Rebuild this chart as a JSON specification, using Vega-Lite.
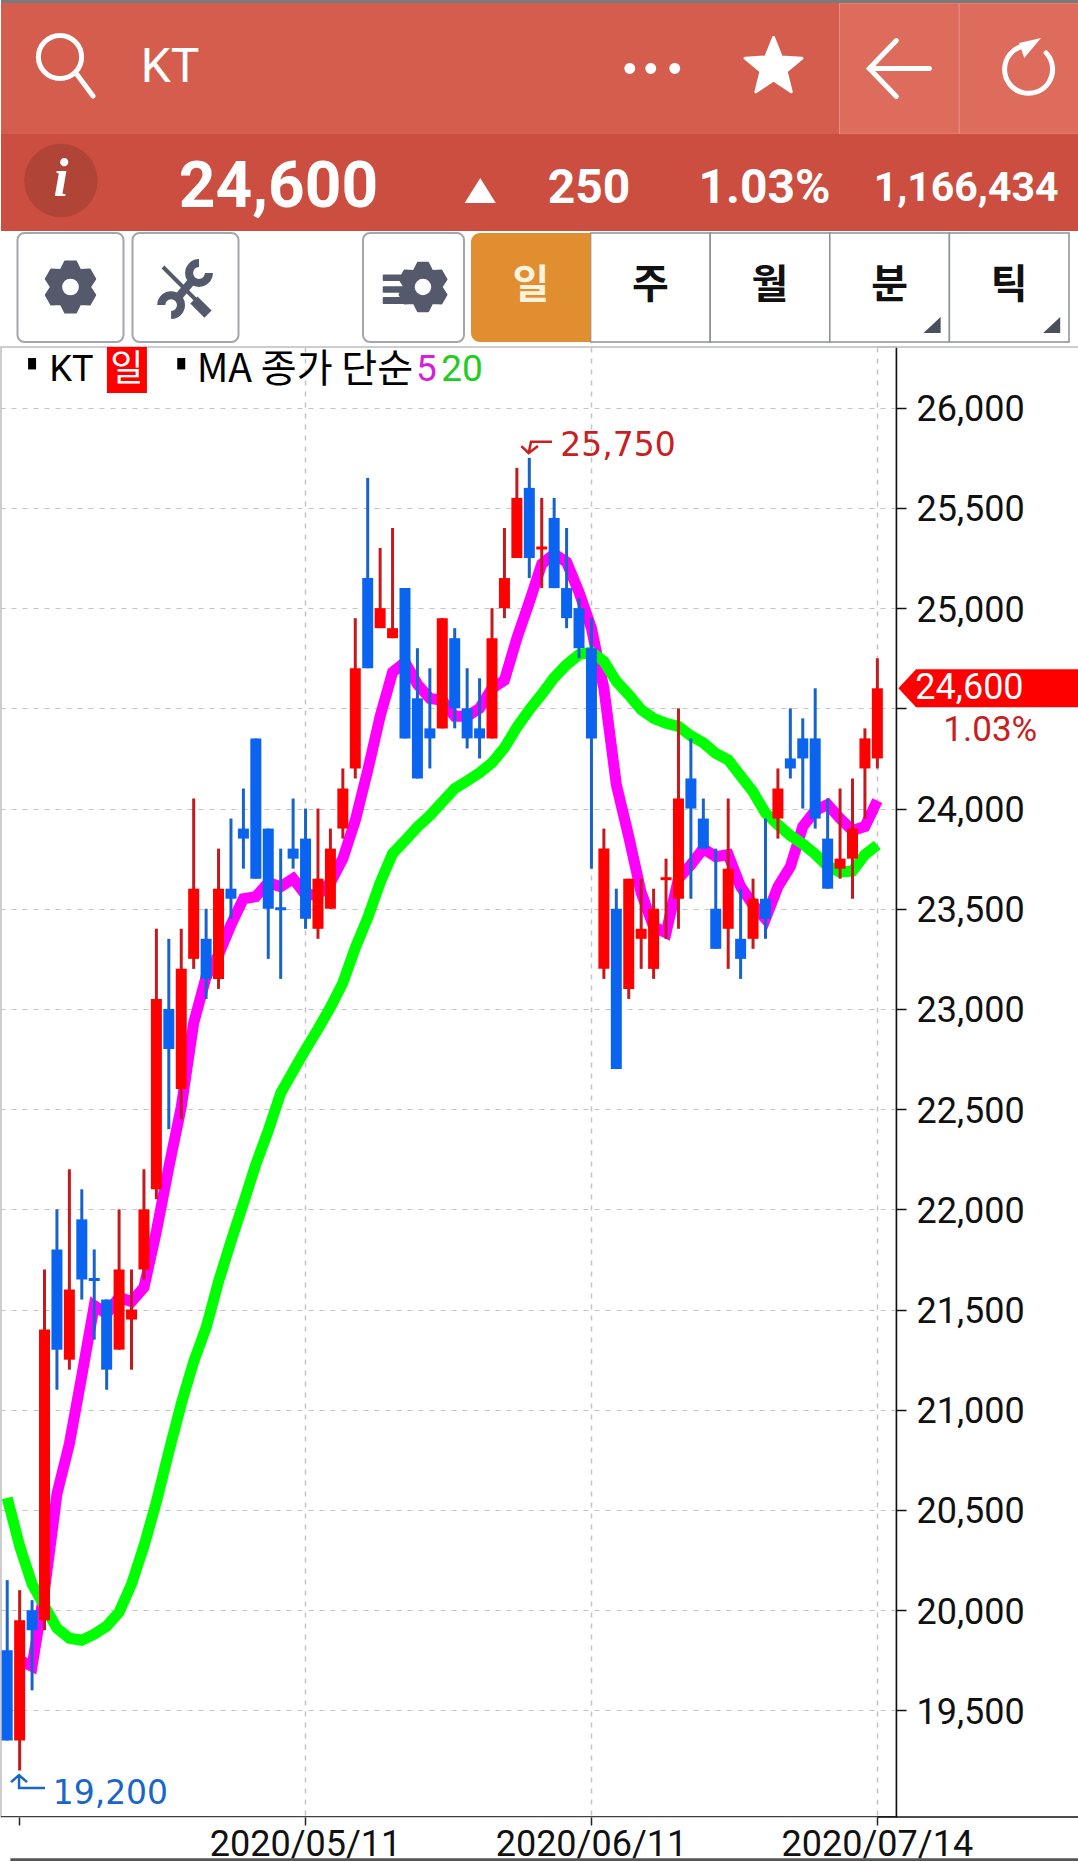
{"$schema":"https://vega.github.io/schema/vega-lite/v6.json","padding":0,"background":"#ffffff","spacing":0,"bounds":"flush","config":{"concat":{"spacing":0},"text":{"font":"Roboto"}},"vconcat":[
{"width":1078,"height":3,"view":{"fill":"#7a7a7a","stroke":null},"data":{"values":[{"k":1}]},"mark":{"type":"point","opacity":0,"size":1},"encoding":{}},
{"width":1078,"height":131,"view":{"fill":"#d55d4e","stroke":null},"encoding":{"x":{"field":"slot","type":"nominal","axis":null,"scale":{"type":"band","domain":["search","name","s1","s2","s3","more","favorite","back","refresh"],"range":[0,1078],"paddingInner":0,"paddingOuter":0}}},"layer":[
{"data":{"values":[{"slot":"back"},{"slot":"refresh"}]},"mark":{"type":"rect","fill":"#de6c5d","stroke":"#e98f83","strokeWidth":1,"clip":true}},
{"data":{"values":[{"slot":"search"}]},"mark":{"type":"point","shape":"M.69 -.383A.72 .72 0 1 1 -.75 -.383A.72 .72 0 1 1 .69 -.383M.5 .15L1.07 .92","size":3600,"filled":false,"stroke":"#ffffff","strokeWidth":5,"opacity":1,"strokeCap":"round"}},
{"data":{"values":[{"slot":"name","label":"KT"}]},"mark":{"type":"text","align":"left","dx":-40,"dy":-1,"fontSize":48,"fill":"#ffffff","font":"Roboto"},"encoding":{"text":{"field":"label"}}},
{"data":{"values":[{"slot":"more"}]},"mark":{"type":"point","shape":"M-.82 0A.18 .18 0 1 1 -1.18 0A.18 .18 0 1 1 -.82 0ZM-.12 0A.18 .18 0 1 1 -.48 0A.18 .18 0 1 1 -.12 0ZM.68 0A.18 .18 0 1 1 .32 0A.18 .18 0 1 1 .68 0Z","size":3600,"filled":true,"fill":"#ffffff","opacity":1}},
{"data":{"values":[{"slot":"favorite"}]},"mark":{"type":"point","shape":"M0 -1L.26 -.35L.95 -.31L.42 .13L.59 .81L0 .42L-.59 .81L-.42 .13L-.95 -.31L-.26 -.35Z","size":3600,"filled":true,"fill":"#ffffff","stroke":"#ffffff","strokeWidth":3,"strokeJoin":"round","opacity":1,"xOffset":-6,"yOffset":-1}},
{"data":{"values":[{"slot":"back"}]},"mark":{"type":"point","shape":"M1 0L-1 0M-.1 -.93L-1 0L-.1 .93","size":3600,"filled":false,"stroke":"#ffffff","strokeWidth":5,"opacity":1,"strokeCap":"round"}},
{"data":{"values":[{"slot":"refresh"}]},"mark":{"type":"point","shape":"M.9 -.52A.8 .8 0 1 1 .13 -.75","size":3600,"filled":false,"stroke":"#ffffff","strokeWidth":5,"opacity":1,"strokeCap":"round"}},
{"data":{"values":[{"slot":"refresh"}]},"mark":{"type":"point","shape":"M.73 -1.02L0 -.85L.17 -.35Z","size":3600,"filled":true,"fill":"#ffffff","opacity":1}}
]},
{"width":1078,"height":97,"view":{"fill":"#cb4e40","stroke":null},"encoding":{"x":{"field":"slot","type":"nominal","axis":null,"scale":{"type":"band","domain":["info","p1","price","arrow","change","c2","rate","r2","volume"],"range":[0,1078],"paddingInner":0,"paddingOuter":0}},"text":{"field":"label"}},"layer":[
{"data":{"values":[{"slot":"info"}]},"mark":{"type":"point","shape":"circle","size":5400,"filled":true,"fill":"#b04437","opacity":1,"yOffset":-2}},
{"data":{"values":[{"slot":"info","label":"i"}]},"mark":{"type":"text","font":"Liberation Serif","fontStyle":"italic","fontWeight":"bold","fontSize":54,"fill":"#ffffff","dy":-3}},
{"data":{"values":[{"slot":"price","label":"24,600"}]},"mark":{"type":"text","font":"Roboto","fontWeight":"bold","fontSize":64,"fill":"#ffffff","dx":-22,"dy":5}},
{"data":{"values":[{"slot":"arrow"}]},"mark":{"type":"point","shape":"M0 -.42L.52 .42L-.52 .42Z","size":3600,"filled":true,"fill":"#ffffff","opacity":1,"xOffset":60,"yOffset":8}},
{"data":{"values":[{"slot":"change","label":"250"}]},"mark":{"type":"text","font":"Roboto","fontWeight":"bold","fontSize":48,"fill":"#ffffff","dx":49,"dy":6}},
{"data":{"values":[{"slot":"rate","label":"1.03%"}]},"mark":{"type":"text","font":"Roboto","fontWeight":"bold","fontSize":48,"fill":"#ffffff","dx":-15,"dy":6}},
{"data":{"values":[{"slot":"volume","label":"1,166,434"}]},"mark":{"type":"text","font":"Roboto","fontWeight":"bold","fontSize":41,"fill":"#ffffff","dx":-53,"dy":6}}
]},
{"width":1078,"height":116,"view":{"fill":"#ffffff","stroke":null},"resolve":{"scale":{"x":"independent"}},"layer":[
{"data":{"values":[{"button":"settings"},{"button":"tools"}]},"mark":{"type":"rect","width":106,"fill":"#ffffff","stroke":"#a3a6ad","strokeWidth":2,"cornerRadius":7},"encoding":{"x":{"field":"button","type":"nominal","axis":null,"scale":{"type":"band","domain":["settings","tools","gap","indicators"],"range":[12,472],"paddingInner":0,"paddingOuter":0}},"y":{"datum":2,"type":"quantitative","axis":null,"scale":{"domain":[116,0]}},"y2":{"datum":111}}},
{"data":{"values":[{"button":"indicators"}]},"mark":{"type":"rect","width":101,"xOffset":-2,"fill":"#ffffff","stroke":"#a3a6ad","strokeWidth":2,"cornerRadius":7},"encoding":{"x":{"field":"button","type":"nominal","axis":null,"scale":{"type":"band","domain":["settings","tools","gap","indicators"],"range":[12,472],"paddingInner":0,"paddingOuter":0}},"y":{"datum":2,"type":"quantitative","axis":null,"scale":{"domain":[116,0]}},"y2":{"datum":111}}},
{"data":{"values":[{"button":"settings"}]},"mark":{"type":"point","shape":"M-.208 -.978L.208 -.978L.375 -.65L.743 -.669L.951 -.309L.75 0L.951 .309L.743 .669L.375 .65L.208 .978L-.208 .978L-.375 .65L-.743 .669L-.951 .309L-.75 0L-.951 -.309L-.743 -.669L-.375 -.65ZM.36 0A.36 .36 0 1 0 -.36 0A.36 .36 0 1 0 .36 0Z","size":2704,"filled":true,"fill":"#545a6b","stroke":"#545a6b","strokeWidth":2,"strokeJoin":"round","opacity":1,"yOffset":-2},"encoding":{"x":{"field":"button","type":"nominal","axis":null,"scale":{"type":"band","domain":["settings","tools","gap","indicators"],"range":[12,472],"paddingInner":0,"paddingOuter":0}}}},
{"data":{"values":[{"button":"tools"}]},"mark":{"type":"point","shape":"M.2 -.22L-.22 .28M.78 -.5A.33 .33 0 1 1 .45 -.83M-.81 .57A.33 .33 0 1 1 -.48 .9","size":3600,"filled":false,"stroke":"#545a6b","strokeWidth":8,"opacity":1,"yOffset":-1},"encoding":{"x":{"field":"button","type":"nominal","axis":null,"scale":{"type":"band","domain":["settings","tools","gap","indicators"],"range":[12,472],"paddingInner":0,"paddingOuter":0}}}},
{"data":{"values":[{"button":"tools"}]},"mark":{"type":"point","shape":"M-.75 -.7L.38 .43","size":3600,"filled":false,"stroke":"#545a6b","strokeWidth":4,"opacity":1,"yOffset":-1},"encoding":{"x":{"field":"button","type":"nominal","axis":null,"scale":{"type":"band","domain":["settings","tools","gap","indicators"],"range":[12,472],"paddingInner":0,"paddingOuter":0}}}},
{"data":{"values":[{"button":"tools"}]},"mark":{"type":"point","shape":"M.4 .28L.87 .75L.63 .99L.16 .52Z","size":3600,"filled":true,"fill":"#545a6b","opacity":1,"yOffset":-1},"encoding":{"x":{"field":"button","type":"nominal","axis":null,"scale":{"type":"band","domain":["settings","tools","gap","indicators"],"range":[12,472],"paddingInner":0,"paddingOuter":0}}}},
{"data":{"values":[{"button":"indicators"}]},"mark":{"type":"point","shape":"M-.208 -.978L.208 -.978L.375 -.65L.743 -.669L.951 -.309L.75 0L.951 .309L.743 .669L.375 .65L.208 .978L-.208 .978L-.375 .65L-.743 .669L-.951 .309L-.75 0L-.951 -.309L-.743 -.669L-.375 -.65ZM.36 0A.36 .36 0 1 0 -.36 0A.36 .36 0 1 0 .36 0ZM-1.58 -.47L-.77 -.47L-.77 -.27L-1.58 -.27ZM-1.58 0L-.77 0L-.77 .2L-1.58 .2ZM-1.58 .43L-.77 .43L-.77 .65L-1.58 .65Z","size":2500,"filled":true,"fill":"#545a6b","stroke":"#545a6b","strokeWidth":1.5,"strokeJoin":"round","opacity":1,"xOffset":7.5,"yOffset":-2},"encoding":{"x":{"field":"button","type":"nominal","axis":null,"scale":{"type":"band","domain":["settings","tools","gap","indicators"],"range":[12,472],"paddingInner":0,"paddingOuter":0}}}},
{"data":{"values":[{"tab":"일","label":"일","state":"on"},{"tab":"주","label":"주","state":"off"},{"tab":"월","label":"월","state":"off"},{"tab":"분","label":"분","state":"off"},{"tab":"틱","label":"틱","state":"off"}]},"layer":[
{"transform":[{"filter":"datum.state==='off'"}],"mark":{"type":"rect","fill":"#ffffff","stroke":"#8c9097","strokeWidth":1.5},"encoding":{"y":{"datum":2,"type":"quantitative","axis":null,"scale":{"domain":[116,0]}},"y2":{"datum":111}}},
{"transform":[{"filter":"datum.state==='on'"}],"mark":{"type":"rect","fill":"#e08e30","cornerRadiusTopLeft":9,"cornerRadiusBottomLeft":9},"encoding":{"y":{"datum":2,"type":"quantitative","axis":null,"scale":{"domain":[116,0]}},"y2":{"datum":111}}},
{"mark":{"type":"text","font":"Noto Sans CJK KR","fontWeight":"bold","fontSize":40,"dy":-3},"encoding":{"text":{"field":"label"},"fill":{"condition":{"test":"datum.state==='on'","value":"#fdf3dc"},"value":"#111111"}}},
{"transform":[{"filter":"datum.tab==='분'||datum.tab==='틱'"}],"mark":{"type":"point","shape":"M1.13 1.47L1.7 .93L1.7 1.47Z","size":3600,"filled":true,"fill":"#4a4f5c","opacity":1}}
],"encoding":{"x":{"field":"tab","type":"nominal","axis":null,"sort":null,"scale":{"type":"band","domain":["일","주","월","분","틱"],"range":[470,1068],"paddingInner":0,"paddingOuter":0}}}}
]},
{"width":895,"height":1470,"view":{"stroke":"#bdbdbd","strokeWidth":1.5,"fill":"#ffffff"},
"data":{"values":[
{"date":"2020/04/01","dir":"down","open":19800,"high":20150,"low":19350,"close":19350,"ma20":20560},
{"date":"2020/04/02","dir":"up","open":19350,"high":20100,"low":19200,"close":19950,"ma5":19750,"ma20":20320},
{"date":"2020/04/03","dir":"down","open":20000,"high":20050,"low":19600,"close":19900,"ma5":19720,"ma20":20130},
{"date":"2020/04/06","dir":"up","open":19950,"high":21700,"low":19900,"close":21400,"ma5":20100,"ma20":20020},
{"date":"2020/04/07","dir":"down","open":21800,"high":22000,"low":21100,"close":21300,"ma5":20580,"ma20":19910},
{"date":"2020/04/08","dir":"up","open":21250,"high":22200,"low":21200,"close":21600,"ma5":20830,"ma20":19860},
{"date":"2020/04/09","dir":"down","open":21950,"high":22100,"low":21550,"close":21650,"ma5":21170,"ma20":19850},
{"date":"2020/04/10","dir":"down","open":21650,"high":21800,"low":21350,"close":21650,"ma5":21520,"ma20":19880},
{"date":"2020/04/13","dir":"down","open":21550,"high":21550,"low":21100,"close":21200,"ma5":21480,"ma20":19920},
{"date":"2020/04/14","dir":"up","open":21300,"high":22000,"low":21300,"close":21700,"ma5":21560,"ma20":19990},
{"date":"2020/04/16","dir":"up","open":21450,"high":21700,"low":21200,"close":21500,"ma5":21540,"ma20":20130},
{"date":"2020/04/17","dir":"up","open":21700,"high":22200,"low":21650,"close":22000,"ma5":21610,"ma20":20320},
{"date":"2020/04/20","dir":"up","open":22100,"high":23400,"low":22050,"close":23050,"ma5":21890,"ma20":20540},
{"date":"2020/04/21","dir":"down","open":23000,"high":23350,"low":22400,"close":22800,"ma5":22210,"ma20":20790},
{"date":"2020/04/22","dir":"up","open":22600,"high":23400,"low":22450,"close":23200,"ma5":22510,"ma20":21030},
{"date":"2020/04/23","dir":"up","open":23250,"high":24050,"low":23200,"close":23600,"ma5":22930,"ma20":21240},
{"date":"2020/04/24","dir":"down","open":23350,"high":23500,"low":23050,"close":23150,"ma5":23160,"ma20":21410},
{"date":"2020/04/27","dir":"up","open":23150,"high":23800,"low":23100,"close":23600,"ma5":23270,"ma20":21640},
{"date":"2020/04/28","dir":"down","open":23600,"high":23950,"low":23450,"close":23550,"ma5":23420,"ma20":21840},
{"date":"2020/04/29","dir":"down","open":23900,"high":24100,"low":23700,"close":23850,"ma5":23550,"ma20":22030},
{"date":"2020/05/04","dir":"down","open":24350,"high":24350,"low":23650,"close":23650,"ma5":23560,"ma20":22225},
{"date":"2020/05/06","dir":"down","open":23900,"high":23900,"low":23250,"close":23500,"ma5":23630,"ma20":22393},
{"date":"2020/05/07","dir":"down","open":23500,"high":23800,"low":23150,"close":23500,"ma5":23610,"ma20":22580},
{"date":"2020/05/08","dir":"down","open":23800,"high":24050,"low":23700,"close":23750,"ma5":23650,"ma20":22690},
{"date":"2020/05/11","dir":"down","open":23850,"high":24000,"low":23400,"close":23450,"ma5":23570,"ma20":22798},
{"date":"2020/05/12","dir":"up","open":23400,"high":24000,"low":23350,"close":23650,"ma5":23570,"ma20":22900},
{"date":"2020/05/13","dir":"up","open":23500,"high":23900,"low":23500,"close":23800,"ma5":23630,"ma20":23008},
{"date":"2020/05/14","dir":"up","open":23900,"high":24200,"low":23850,"close":24100,"ma5":23750,"ma20":23130},
{"date":"2020/05/15","dir":"up","open":24200,"high":24950,"low":24150,"close":24700,"ma5":23940,"ma20":23305},
{"date":"2020/05/18","dir":"down","open":25150,"high":25650,"low":24700,"close":24700,"ma5":24190,"ma20":23455},
{"date":"2020/05/19","dir":"up","open":24900,"high":25300,"low":24900,"close":25000,"ma5":24460,"ma20":23630},
{"date":"2020/05/20","dir":"up","open":24850,"high":25400,"low":24850,"close":24900,"ma5":24680,"ma20":23775},
{"date":"2020/05/21","dir":"down","open":25100,"high":25100,"low":24350,"close":24350,"ma5":24730,"ma20":23840},
{"date":"2020/05/22","dir":"down","open":24550,"high":24800,"low":24150,"close":24150,"ma5":24620,"ma20":23908},
{"date":"2020/05/25","dir":"down","open":24400,"high":24700,"low":24200,"close":24350,"ma5":24550,"ma20":23965},
{"date":"2020/05/26","dir":"up","open":24400,"high":24950,"low":24400,"close":24950,"ma5":24540,"ma20":24033},
{"date":"2020/05/27","dir":"down","open":24850,"high":24900,"low":24400,"close":24500,"ma5":24460,"ma20":24100},
{"date":"2020/05/28","dir":"down","open":24500,"high":24700,"low":24300,"close":24350,"ma5":24460,"ma20":24138},
{"date":"2020/05/29","dir":"down","open":24400,"high":24650,"low":24250,"close":24350,"ma5":24500,"ma20":24178},
{"date":"2020/06/01","dir":"up","open":24350,"high":25000,"low":24350,"close":24850,"ma5":24600,"ma20":24228},
{"date":"2020/06/02","dir":"up","open":25000,"high":25400,"low":24950,"close":25150,"ma5":24640,"ma20":24303},
{"date":"2020/06/03","dir":"up","open":25250,"high":25700,"low":25250,"close":25550,"ma5":24850,"ma20":24405},
{"date":"2020/06/04","dir":"down","open":25600,"high":25750,"low":25150,"close":25250,"ma5":25030,"ma20":24493},
{"date":"2020/06/05","dir":"up","open":25300,"high":25550,"low":25100,"close":25300,"ma5":25220,"ma20":24570},
{"date":"2020/06/08","dir":"down","open":25450,"high":25550,"low":25100,"close":25100,"ma5":25270,"ma20":24653},
{"date":"2020/06/09","dir":"down","open":25100,"high":25400,"low":24900,"close":24950,"ma5":25230,"ma20":24718},
{"date":"2020/06/10","dir":"down","open":25000,"high":25050,"low":24750,"close":24800,"ma5":25080,"ma20":24768},
{"date":"2020/06/11","dir":"down","open":24800,"high":24950,"low":23700,"close":24350,"ma5":24900,"ma20":24780},
{"date":"2020/06/12","dir":"up","open":23200,"high":23900,"low":23150,"close":23800,"ma5":24600,"ma20":24735},
{"date":"2020/06/15","dir":"down","open":23500,"high":23600,"low":22700,"close":22700,"ma5":24120,"ma20":24635},
{"date":"2020/06/16","dir":"up","open":23100,"high":23650,"low":23050,"close":23650,"ma5":23860,"ma20":24568},
{"date":"2020/06/17","dir":"up","open":23350,"high":23650,"low":23200,"close":23400,"ma5":23580,"ma20":24493},
{"date":"2020/06/18","dir":"up","open":23200,"high":23600,"low":23150,"close":23500,"ma5":23410,"ma20":24450},
{"date":"2020/06/19","dir":"up","open":23650,"high":23750,"low":23350,"close":23650,"ma5":23380,"ma20":24425},
{"date":"2020/06/22","dir":"up","open":23550,"high":24500,"low":23400,"close":24050,"ma5":23650,"ma20":24410},
{"date":"2020/06/23","dir":"down","open":24150,"high":24350,"low":23550,"close":24000,"ma5":23720,"ma20":24363},
{"date":"2020/06/24","dir":"down","open":23950,"high":24050,"low":23800,"close":23800,"ma5":23800,"ma20":24328},
{"date":"2020/06/25","dir":"down","open":23500,"high":23800,"low":23300,"close":23300,"ma5":23760,"ma20":24275},
{"date":"2020/06/26","dir":"up","open":23400,"high":24050,"low":23200,"close":23700,"ma5":23770,"ma20":24243},
{"date":"2020/06/29","dir":"down","open":23350,"high":23600,"low":23150,"close":23250,"ma5":23610,"ma20":24163},
{"date":"2020/06/30","dir":"up","open":23350,"high":23650,"low":23300,"close":23550,"ma5":23520,"ma20":24083},
{"date":"2020/07/01","dir":"down","open":23550,"high":23950,"low":23350,"close":23450,"ma5":23450,"ma20":23978},
{"date":"2020/07/02","dir":"up","open":23950,"high":24200,"low":23850,"close":24100,"ma5":23610,"ma20":23920},
{"date":"2020/07/03","dir":"down","open":24250,"high":24500,"low":24150,"close":24200,"ma5":23710,"ma20":23865},
{"date":"2020/07/06","dir":"down","open":24350,"high":24450,"low":24000,"close":24250,"ma5":23910,"ma20":23823},
{"date":"2020/07/07","dir":"down","open":24350,"high":24600,"low":23900,"close":23950,"ma5":23990,"ma20":23773},
{"date":"2020/07/08","dir":"down","open":23850,"high":24050,"low":23600,"close":23600,"ma5":24020,"ma20":23713},
{"date":"2020/07/09","dir":"up","open":23700,"high":24100,"low":23650,"close":23750,"ma5":23950,"ma20":23683},
{"date":"2020/07/10","dir":"up","open":23750,"high":24150,"low":23550,"close":23900,"ma5":23890,"ma20":23688},
{"date":"2020/07/13","dir":"up","open":24200,"high":24400,"low":23950,"close":24350,"ma5":23910,"ma20":23770},
{"date":"2020/07/14","dir":"up","open":24250,"high":24750,"low":24200,"close":24600,"ma5":24040,"ma20":23818}
]},
"encoding":{"x":{"field":"date","type":"ordinal","title":null,"scale":{"type":"band","paddingInner":0,"paddingOuter":0.5,"align":0,"domain":["2020/04/01","2020/04/02","2020/04/03","2020/04/06","2020/04/07","2020/04/08","2020/04/09","2020/04/10","2020/04/13","2020/04/14","2020/04/16","2020/04/17","2020/04/20","2020/04/21","2020/04/22","2020/04/23","2020/04/24","2020/04/27","2020/04/28","2020/04/29","2020/05/04","2020/05/06","2020/05/07","2020/05/08","2020/05/11","2020/05/12","2020/05/13","2020/05/14","2020/05/15","2020/05/18","2020/05/19","2020/05/20","2020/05/21","2020/05/22","2020/05/25","2020/05/26","2020/05/27","2020/05/28","2020/05/29","2020/06/01","2020/06/02","2020/06/03","2020/06/04","2020/06/05","2020/06/08","2020/06/09","2020/06/10","2020/06/11","2020/06/12","2020/06/15","2020/06/16","2020/06/17","2020/06/18","2020/06/19","2020/06/22","2020/06/23","2020/06/24","2020/06/25","2020/06/26","2020/06/29","2020/06/30","2020/07/01","2020/07/02","2020/07/03","2020/07/06","2020/07/07","2020/07/08","2020/07/09","2020/07/10","2020/07/13","2020/07/14"]},"axis":{"values":["2020/04/02","2020/05/11","2020/06/11","2020/07/14"],"labelExpr":"datum.value==='2020/04/02'?'':datum.value","labelAngle":0,"labelFont":"Roboto","labelFontSize":36,"labelColor":"#111111","labelPadding":2,"labelLimit":400,"labelOverlap":false,"labelBound":false,"labelFlush":false,"tickSize":8,"tickColor":"#222222","tickWidth":1.5,"domain":false,"grid":true,"gridColor":"#c4c4c4","gridDash":[5,6],"gridWidth":1.5,"gridOpacity":{"condition":{"test":"datum.value==='2020/04/02'","value":0},"value":1}}}},
"layer":[
{"mark":{"type":"line","stroke":"#ff00ff","strokeWidth":11,"clip":true},"encoding":{"y":{"field":"ma5","type":"quantitative","title":null,"scale":{"domain":[18968,26303],"zero":false,"nice":false},"axis":{"orient":"right","values":[19500,20000,20500,21000,21500,22000,22500,23000,23500,24000,24500,25000,25500,26000],"labelExpr":"datum.value===24500?'':datum.label","format":",d","labelFont":"Roboto","labelFontSize":36,"labelColor":"#111111","labelPadding":10,"labelOffset":2,"labelBound":false,"labelFlush":false,"tickSize":10,"tickColor":"#111111","tickWidth":1.5,"domainColor":"#111111","domainWidth":1.5,"grid":true,"gridColor":"#c4c4c4","gridDash":[5,6],"gridWidth":1.2}}}},
{"mark":{"type":"line","stroke":"#00ff00","strokeWidth":11,"clip":true},"encoding":{"y":{"field":"ma20","type":"quantitative"}}},
{"mark":{"type":"rule","strokeWidth":3},"encoding":{"y":{"field":"low","type":"quantitative"},"y2":{"field":"high"},"stroke":{"field":"dir","type":"nominal","legend":null,"scale":{"domain":["up","down"],"range":["#c41a1e","#1763c9"]}}}},
{"mark":{"type":"bar","width":11},"encoding":{"y":{"field":"open","type":"quantitative","stack":null},"y2":{"field":"close"},"fill":{"field":"dir","type":"nominal","legend":null,"scale":{"domain":["up","down"],"range":["#ff0000","#0a64f0"]}}}},
{"transform":[{"filter":"datum.open===datum.close"}],"mark":{"type":"tick","thickness":3,"size":11,"orient":"horizontal","opacity":1},"encoding":{"y":{"field":"close","type":"quantitative"},"fill":{"field":"dir","type":"nominal","legend":null}}},
{"data":{"values":[{"date":"2020/07/14","price":18968}]},"mark":{"type":"rule","stroke":"#111111","strokeWidth":1.5,"clip":true},"encoding":{"x":null,"y":{"field":"price","type":"quantitative"}}},
{"data":{"values":[{"date":"2020/07/14","price":18968}]},"mark":{"type":"point","shape":"M0 0L6.8 0","size":3600,"filled":false,"stroke":"#111111","strokeWidth":1.5,"opacity":1},"encoding":{"y":{"field":"price","type":"quantitative"}}},
{"data":{"values":[{"date":"2020/07/14","price":18755}]},"mark":{"type":"point","shape":"M-28.9 0L6.8 0","size":3600,"filled":false,"stroke":"#555555","strokeWidth":3,"opacity":1},"encoding":{"y":{"field":"price","type":"quantitative"}}},
{"data":{"values":[{"date":"2020/07/14","price":26303}]},"mark":{"type":"point","shape":"M0 0L6.8 0","size":3600,"filled":false,"stroke":"#bdbdbd","strokeWidth":1.5,"opacity":1},"encoding":{"y":{"field":"price","type":"quantitative"}}},
{"data":{"values":[{"date":"2020/07/14","price":24600}]},"mark":{"type":"point","shape":"M-1 0L-.803 -.211L1 -.211L1 .211L-.803 .211Z","size":32400,"filled":true,"fill":"#ff0000","opacity":1,"xOffset":111},"encoding":{"y":{"field":"price","type":"quantitative"}}},
{"data":{"values":[{"date":"2020/07/14","price":24600,"label":"24,600"}]},"mark":{"type":"text","align":"left","baseline":"middle","font":"Roboto","fontSize":36,"fill":"#ffffff","dx":38},"encoding":{"y":{"field":"price","type":"quantitative"},"text":{"field":"label"}}},
{"data":{"values":[{"date":"2020/07/14","price":24600,"label":"1.03%"}]},"mark":{"type":"text","align":"left","baseline":"middle","font":"Roboto","fontSize":35,"fill":"#c8201f","dx":66,"dy":42},"encoding":{"y":{"field":"price","type":"quantitative"},"text":{"field":"label"}}},
{"data":{"values":[{"date":"2020/06/04","price":25750}]},"mark":{"type":"point","shape":"M.757 -.533L.057 -.533L-.02 -.16M-.267 -.393L-.02 -.16L.29 -.393","size":3600,"filled":false,"stroke":"#c8201f","strokeWidth":2.5,"opacity":1},"encoding":{"y":{"field":"price","type":"quantitative"}}},
{"data":{"values":[{"date":"2020/06/04","price":25750,"label":"25,750"}]},"mark":{"type":"text","align":"left","baseline":"middle","font":"DejaVu Sans","fontSize":33,"fill":"#c8201f","dx":31,"dy":-12},"encoding":{"y":{"field":"price","type":"quantitative"},"text":{"field":"label"}}},
{"data":{"values":[{"date":"2020/04/02","price":19200}]},"mark":{"type":"point","shape":"M-.02 .153L-.02 .587L.847 .587M-.287 .387L-.02 .153L.247 .387","size":3600,"filled":false,"stroke":"#1a66c8","strokeWidth":2.5,"opacity":1},"encoding":{"y":{"field":"price","type":"quantitative"}}},
{"data":{"values":[{"date":"2020/04/02","price":19200,"label":"19,200"}]},"mark":{"type":"text","align":"left","baseline":"middle","font":"DejaVu Sans","fontSize":33,"fill":"#1a66c8","dx":33,"dy":23},"encoding":{"y":{"field":"price","type":"quantitative"},"text":{"field":"label"}}},
{"data":{"values":[{"date":"2020/04/03","price":26188},{"date":"2020/04/22","price":26188}]},"mark":{"type":"point","shape":"M-.133 -.4L.133 -.4L.133 -.02L-.133 -.02Z","size":3600,"filled":true,"fill":"#000000","opacity":1},"encoding":{"y":{"field":"price","type":"quantitative"}}},
{"data":{"values":[{"date":"2020/04/06","price":26188,"label":"KT"}]},"mark":{"type":"text","align":"left","baseline":"middle","font":"Roboto","fontSize":36,"fill":"#000000","dx":5,"dy":0},"encoding":{"y":{"field":"price","type":"quantitative"},"text":{"field":"label"}}},
{"data":{"values":[{"date":"2020/04/16","price":26188}]},"mark":{"type":"point","shape":"M-.667 -.767L.667 -.767L.667 .767L-.667 .767Z","size":3600,"filled":true,"fill":"#ff0000","opacity":1,"xOffset":-4.6},"encoding":{"y":{"field":"price","type":"quantitative"}}},
{"data":{"values":[{"date":"2020/04/16","price":26188,"label":"일"}]},"mark":{"type":"text","baseline":"middle","font":"Noto Sans CJK KR","fontSize":36,"fill":"#ffffff","dx":-4.6},"encoding":{"y":{"field":"price","type":"quantitative"},"text":{"field":"label"}}},
{"data":{"values":[{"date":"2020/04/23","price":26188,"label":"MA 종가 단순"}]},"mark":{"type":"text","align":"left","baseline":"middle","font":"Noto Sans CJK KR","fontSize":39,"fill":"#000000","dx":3,"dy":0},"encoding":{"y":{"field":"price","type":"quantitative"},"text":{"field":"label"}}},
{"data":{"values":[{"date":"2020/05/22","price":26188,"label":"5"}]},"mark":{"type":"text","align":"left","baseline":"middle","font":"Roboto","fontSize":37,"fill":"#d81fd8","dx":-1.4,"dy":0},"encoding":{"y":{"field":"price","type":"quantitative"},"text":{"field":"label"}}},
{"data":{"values":[{"date":"2020/05/26","price":26188,"label":"20"}]},"mark":{"type":"text","align":"left","baseline":"middle","font":"Roboto","fontSize":37,"fill":"#22cc22","dx":-1,"dy":0},"encoding":{"y":{"field":"price","type":"quantitative"},"text":{"field":"label"}}}
]}
]}
